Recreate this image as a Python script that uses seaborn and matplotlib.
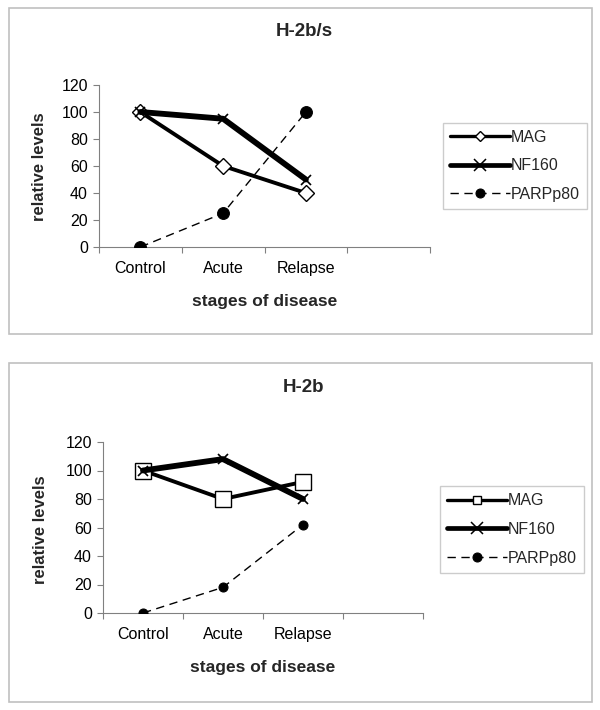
import matplotlib
matplotlib.use("Agg")
import matplotlib.pyplot as plt
from matplotlib.patches import Rectangle
from matplotlib.ticker import FixedLocator
import seaborn as sns
import pandas as pd

# ---- data ----
stages = ["Control", "Acute", "Relapse"]
series_names = ["MAG", "NF160", "PARPp80"]

titles = ["H-2b/s", "H-2b"]
mag_top = [100, 60, 40]
nf160_top = [100, 95, 50]
parp_top = [0, 25, 100]

mag_bot = [100, 80, 92]
nf160_bot = [100, 108, 80]
parp_bot = [0, 18, 62]

yticks = [0, 20, 40, 60, 80, 100, 120]
xlabel = "stages of disease"
ylabel = "relative levels"

sns.set_theme(style="white")
plt.rcParams['font.family'] = ['Liberation Sans', 'DejaVu Sans']

W, H = 600, 710
fig = plt.figure(figsize=(W / 100, H / 100), dpi=100)


def fx(px):
    return px / W


def fy(py):
    return 1 - py / H


FRAME = "#c0c0c0"
SPINE = "#808080"


def panel(frame_box, ax_box, title_xy, legend_box, data, mag_marker, mag_ms, parp_ms,
          xlab_y, ylab_xy):
    x0, y0, x1, y1 = frame_box
    fig.patches.append(Rectangle((fx(x0), fy(y1)), fx(x1) - fx(x0), fy(y0) - fy(y1),
                                 transform=fig.transFigure, fill=False,
                                 edgecolor=FRAME, linewidth=1.2))
    l, t, r, b = ax_box
    ax = fig.add_axes([fx(l), fy(b), fx(r) - fx(l), fy(t) - fy(b)])
    mag, nf, parp = data
    df = pd.DataFrame({"stage": stages, "MAG": mag, "NF160": nf, "PARPp80": parp})
    sns.lineplot(data=df, x="stage", y="MAG", ax=ax, color="black", linewidth=2.8,
                 marker=mag_marker, markersize=mag_ms, markerfacecolor="white",
                 markeredgecolor="black", markeredgewidth=1.0, label=series_names[0],
                 zorder=3)
    sns.lineplot(data=df, x="stage", y="NF160", ax=ax, color="black", linewidth=4.2,
                 marker="x", markersize=6.5, markeredgecolor="black",
                 markeredgewidth=1.2, label=series_names[1], zorder=4)
    sns.lineplot(data=df, x="stage", y="PARPp80", ax=ax, color="black", linewidth=1.0,
                 marker="o", markersize=parp_ms, markerfacecolor="black",
                 markeredgecolor="black", label=series_names[2], zorder=5)
    ax.lines[-1].set_dashes((6, 4))
    ax.set_xlim(-0.5, 3.5)
    ax.set_ylim(0, 120)
    ax.set_yticks(yticks)
    ax.set_xticks(range(len(stages)))
    ax.set_xticklabels(stages)
    ax.xaxis.set_minor_locator(FixedLocator([-0.5, 0.5, 1.5, 2.5, 3.5]))
    for s in ["top", "right"]:
        ax.spines[s].set_visible(False)
    for s in ["left", "bottom"]:
        ax.spines[s].set_color(SPINE)
        ax.spines[s].set_linewidth(0.8)
    ax.tick_params(axis="y", which="major", left=True, length=4, width=0.8,
                   color=SPINE, labelsize=11.5, pad=4, labelcolor="black")
    ax.tick_params(axis="x", which="major", bottom=False, length=0, labelsize=11.5,
                   pad=10, labelcolor="black")
    ax.tick_params(axis="x", which="minor", bottom=True, length=4, width=0.8,
                   color=SPINE)
    ax.set_xlabel(xlabel, fontsize=12.5, fontweight="bold")
    ax.set_ylabel(ylabel, fontsize=12, fontweight="bold")
    ax.xaxis.set_label_coords(0.5, (b - xlab_y) / (b - t))
    ax.yaxis.set_label_coords((ylab_xy[0] - l) / (r - l), (b - ylab_xy[1]) / (b - t))
    ax.grid(False)
    ax.set_facecolor("none")

    fig.text(fx(title_xy[0]), fy(title_xy[1]), title_xy[2], ha="center", va="center",
             fontsize=13.5, fontweight="bold")

    lx0, ly0, lx1, ly1 = legend_box
    handles, labels = ax.get_legend_handles_labels()
    if ax.get_legend():
        ax.get_legend().remove()
    leg = fig.legend(handles, labels, loc="center left",
                     bbox_to_anchor=(fx(lx0), fy((ly0 + ly1) / 2)),
                     bbox_transform=fig.transFigure, frameon=True, fancybox=False,
                     fontsize=11.5, handlelength=3.75, labelspacing=0.85,
                     borderpad=0.45, handletextpad=0.05, borderaxespad=0)
    leg.get_frame().set_edgecolor(FRAME)
    leg.get_frame().set_linewidth(1.0)
    lh = leg.legend_handles
    lh[0].set_linewidth(2.4)
    lh[0].set_markersize(5.5)
    lh[1].set_linewidth(3.4)
    lh[1].set_markersize(8)
    lh[1].set_markeredgewidth(1.1)
    lh[2].set_markersize(6.5)
    return ax


panel((9, 8, 592, 334), (99, 85, 430, 247), (304, 32, titles[0]), (443, 124, 585, 208),
      (mag_top, nf160_top, parp_top), "D", 8.5, 8.5, 294, (47, 167))
panel((9, 363, 592, 702), (103, 442, 423, 613), (304, 387, titles[1]), (440, 487, 588, 572),
      (mag_bot, nf160_bot, parp_bot), "s", 11, 6.5, 660, (48, 530))

fig.savefig("out.png", dpi=100, facecolor="white")
